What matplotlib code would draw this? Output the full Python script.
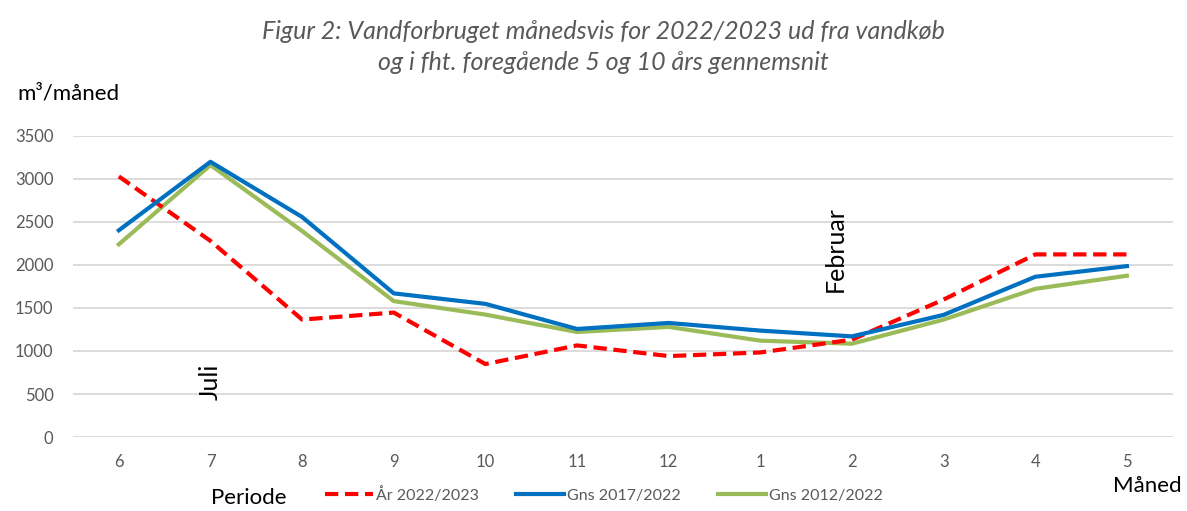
import matplotlib
matplotlib.use("Agg")
import matplotlib.pyplot as plt

months = ["6", "7", "8", "9", "10", "11", "12", "1", "2", "3", "4", "5"]
aar_2022_2023 = [3030, 2280, 1365, 1447, 848, 1065, 941, 983, 1132, 1598, 2123, 2123]
gns_2017_2022 = [2403, 3200, 2558, 1670, 1548, 1256, 1326, 1237, 1170, 1420, 1863, 1987]
gns_2012_2022 = [2240, 3162, 2395, 1580, 1423, 1221, 1280, 1120, 1085, 1365, 1723, 1875]
yticks = [0, 500, 1000, 1500, 2000, 2500, 3000, 3500]

plt.rcParams["font.family"] = ["Lato", "DejaVu Sans"]
GREY = "#595959"

fig = plt.figure(figsize=(11.87, 5.11), dpi=100)
ax = fig.add_axes([0.0615, 0.1448, 0.9265, 0.5891])

x = range(len(months))
ax.plot(x, aar_2022_2023, color="#FF0000", lw=3, dashes=(3.2, 1.6),
        label="År 2022/2023", zorder=3)
ax.plot(x, gns_2017_2022, color="#0070C0", lw=3, label="Gns 2017/2022", zorder=3)
ax.plot(x, gns_2012_2022, color="#9BBB59", lw=3, label="Gns 2012/2022", zorder=2)

ax.set_xlim(-0.5, len(months) - 0.5)
ax.set_ylim(0, 3500)
ax.set_xticks(list(x))
ax.set_xticklabels(months)
ax.set_yticks(yticks)
ax.tick_params(axis="both", length=0, labelsize=12, labelcolor=GREY)
ax.tick_params(axis="x", pad=12)
ax.tick_params(axis="y", pad=14)
ax.grid(axis="y", color="#D9D9D9", lw=1.3)
ax.set_axisbelow(True)
for s in ax.spines.values():
    s.set_visible(False)

fig.text(0.508, 0.908, "Figur 2: Vandforbruget månedsvis for 2022/2023 ud fra vandkøb\n"
         "og i fht. foregående 5 og 10 års gennemsnit",
         ha="center", va="center", fontsize=18, style="italic", color=GREY,
         linespacing=1.45)
fig.text(0.015, 0.818, "m³/måned", fontsize=16, va="center")
ax.text(1, 640, "Juli", rotation=90, fontsize=18, ha="center", va="center")
ax.text(7.82, 2180, "Februar", rotation=90, fontsize=18, ha="center", va="center")
fig.text(0.178, 0.005, "Periode", fontsize=16, va="bottom")
fig.text(0.938, 0.03, "Måned", fontsize=16, va="bottom")

fig.legend(loc="lower left", bbox_to_anchor=(0.262, -0.012), ncol=3, frameon=False,
           fontsize=11.5, labelcolor=GREY, handlelength=3.0, handletextpad=0.2,
           columnspacing=2.3)

fig.savefig("out.png", dpi=100)
